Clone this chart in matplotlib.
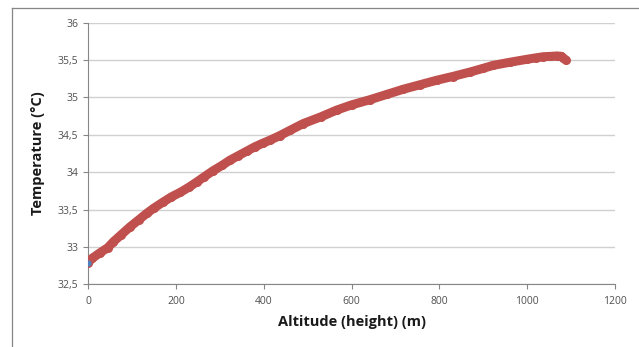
import numpy as np
import matplotlib
matplotlib.use("Agg")
import matplotlib.pyplot as plt
from matplotlib.lines import Line2D

# altitude (m) vs temperature (°C)
alt = [0, 10, 27, 45, 58, 75, 96, 115, 134, 150, 171, 190, 210, 230, 248,
       265, 285, 305, 323, 342, 361, 380, 399, 415, 437, 460, 490, 530, 566,
       600, 642, 680, 718, 756, 794, 830, 870, 900, 923, 960, 999, 1020,
       1037, 1055, 1068, 1078, 1082, 1088]
temp = [32.79, 32.85, 32.92, 32.99, 33.07, 33.16, 33.27, 33.36, 33.45, 33.52,
        33.60, 33.67, 33.73, 33.80, 33.87, 33.94, 34.02, 34.09, 34.16, 34.22,
        34.28, 34.34, 34.39, 34.43, 34.49, 34.56, 34.65, 34.74, 34.83, 34.90,
        34.97, 35.04, 35.11, 35.17, 35.23, 35.28, 35.34, 35.39, 35.43, 35.47,
        35.51, 35.53, 35.545, 35.55, 35.555, 35.55, 35.53, 35.50]
# second series, mostly hidden under the first
alt_b = [0, 620, 715, 835, 970]
temp_b = [32.78, 34.93, 35.10, 35.28, 35.48]

xticks = [0, 200, 400, 600, 800, 1000, 1200]
yticks = [32.5, 33, 33.5, 34, 34.5, 35, 35.5, 36]
ylabels = [f"{v:g}".replace(".", ",") for v in yticks]

plt.rcParams["font.family"] = ["Open Sans", "DejaVu Sans"]

fig = plt.figure(figsize=(6.39, 3.47), dpi=100, facecolor="white")
ax = fig.add_axes([88/639, 1-284.3/347, (615-88)/639, (284.3-22.7)/347])

ax.plot(alt_b, temp_b, ls="none", marker="o", ms=3.5, color="#4F81BD", zorder=2)
ax.plot(alt, temp, color="#C0504D", lw=6.5, marker="o", ms=5.5,
        solid_capstyle="round", solid_joinstyle="round", zorder=3)
ax.plot(alt_b[:1], temp_b[:1], ls="none", marker="o", ms=3.5,
        color="#4F81BD", zorder=4)

ax.set_xlim(0, 1200)
ax.set_ylim(32.5, 36)
ax.set_xticks(xticks)
ax.set_yticks(yticks)
ax.set_yticklabels(ylabels)
ax.grid(axis="y", color="#d0d0d0", lw=1)
ax.set_axisbelow(True)
for s in ("top", "right"):
    ax.spines[s].set_visible(False)
for s in ("left", "bottom"):
    ax.spines[s].set_color("#868686")
    ax.spines[s].set_linewidth(0.8)
ax.tick_params(colors="#868686", labelcolor="#505050", labelsize=7.5,
               length=3.5, width=0.8)
ax.tick_params(axis="x", pad=5)

ax.set_xlabel("Altitude (height) (m)", fontsize=10.5, fontweight="bold",
              color="#1a1a1a", labelpad=6)
ax.set_ylabel("Temperature (°C)", fontsize=10.5, fontweight="bold",
              color="#1a1a1a", labelpad=9)

# chart frame (cropped)
fig.add_artist(Line2D([12/639, 12/639], [0, 1-8/347], color="#868686", lw=0.9))
fig.add_artist(Line2D([12/639, 1], [1-8/347, 1-8/347], color="#868686", lw=0.9))

fig.savefig("out.png", dpi=100, facecolor="white")
